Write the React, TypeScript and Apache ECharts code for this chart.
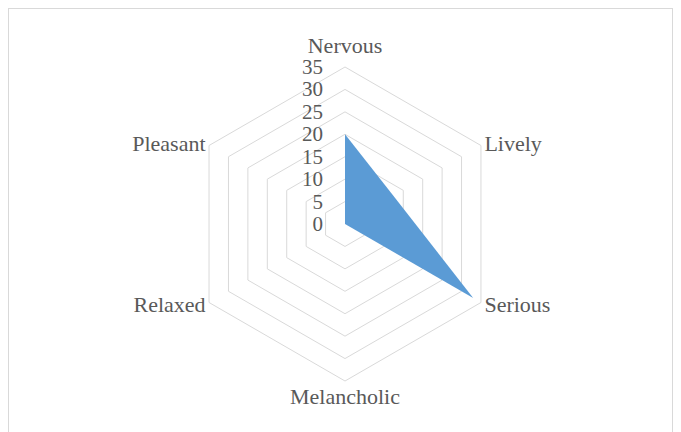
import React, { useEffect, useRef } from "react";
import * as echarts from "echarts";

const categories = ["Nervous", "Lively", "Serious", "Melancholic", "Relaxed", "Pleasant"];
const values = [20, 12.5, 33, 0, 0, 0];
const axisMax = 35;
const splitCount = 7;

export default function App() {
  const ref = useRef<HTMLDivElement>(null);
  useEffect(() => {
    if (!ref.current) return;
    const chart = echarts.init(ref.current, null, { renderer: "svg" });
    // ECharts radar runs counter-clockwise from the top; reorder to clockwise
    const order = [0, 5, 4, 3, 2, 1];
    const indicator = order.map((i, k) => {
      const base: any = { name: categories[i], max: axisMax, min: 0 };
      if (k === 0) {
        base.axisLabel = {
          show: true,
          color: "#595959",
          fontFamily: "Liberation Serif",
          fontSize: 21,
          margin: 22,
        };
      }
      return base;
    });
    chart.setOption({
      animation: false,
      radar: {
        center: [336, 215],
        radius: 157,
        startAngle: 90,
        splitNumber: splitCount,
        shape: "polygon",
        indicator,
        nameGap: 4,
        axisName: {
          color: "#595959",
          fontFamily: "Liberation Serif",
          fontSize: 22,
        },
        axisLine: { show: false },
        axisTick: { show: false },
        axisLabel: { show: false },
        splitArea: { show: false },
        splitLine: { lineStyle: { color: "#d9d9d9", width: 1 } },
      },
      series: [
        {
          type: "radar",
          symbol: "none",
          lineStyle: { width: 0, color: "#5b9bd5" },
          areaStyle: { color: "#5b9bd5", opacity: 1 },
          itemStyle: { color: "#5b9bd5" },
          data: [{ value: order.map((i) => values[i]), name: "Series1" }],
        },
      ],
    });
    return () => chart.dispose();
  }, []);
  return (
    <div
      style={{
        position: "fixed",
        left: 8,
        top: 8,
        width: 663,
        height: 440,
        border: "1px solid #d9d9d9",
        background: "#fff",
      }}
    >
      <div ref={ref} style={{ width: 663, height: 440 }} />
    </div>
  );
}
